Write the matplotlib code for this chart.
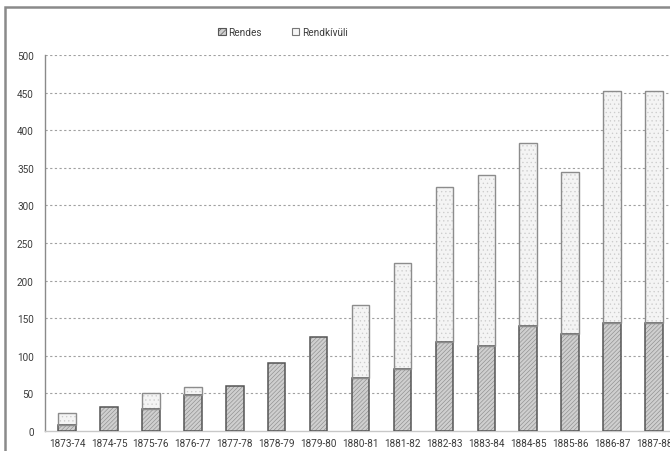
import matplotlib
matplotlib.use("Agg")
import matplotlib.pyplot as plt
from matplotlib.patches import Patch, Rectangle
import numpy as np

plt.rcParams['font.family'] = ['Roboto', 'DejaVu Sans']
plt.rcParams['hatch.linewidth'] = 0.45

years = ["1873-74", "1874-75", "1875-76", "1876-77", "1877-78", "1878-79",
         "1879-80", "1880-81", "1881-82", "1882-83", "1883-84", "1884-85",
         "1885-86", "1886-87", "1887-88"]
rendes = [8, 32, 29, 48, 60, 90, 125, 71, 83, 118, 113, 139, 129, 144, 144]
rendkivuli = [16, 0, 21, 11, 0, 0, 0, 96, 140, 207, 227, 244, 215, 308, 308]
yticks = [0, 50, 100, 150, 200, 250, 300, 350, 400, 450, 500]

W, H = 670, 452
fig = plt.figure(figsize=(W / 100, H / 100), dpi=100)
fig.patch.set_facecolor("white")

# outer frame of the chart area
fig.patches.append(Rectangle((5 / W, -0.2), 1.2, (H - 8) / H + 0.2,
                             transform=fig.transFigure, fill=False,
                             edgecolor="#8a8a8a", linewidth=1.8, zorder=0))

ax = fig.add_axes([45 / W, 20 / H, (W - 45) / W, 376 / H])
x = np.arange(len(years))
width = 0.42

# Rendes: grey with dense diagonal hatching
ax.bar(x, rendes, width, color="#cfcfcf", edgecolor="#8e8e8e",
       hatch="////////", linewidth=0, zorder=3)
ax.bar(x, rendes, width, fill=False, edgecolor="#555555", linewidth=1.1, zorder=4)

# Rendkívüli: very light with a faint dotted texture
mask = np.array(rendkivuli) > 0
ax.bar(x[mask], np.array(rendkivuli)[mask], width, bottom=np.array(rendes)[mask],
       color="#f4f4f4", edgecolor="#cccccc", hatch="....", linewidth=0, zorder=3)
ax.bar(x[mask], np.array(rendkivuli)[mask], width, bottom=np.array(rendes)[mask],
       fill=False, edgecolor="#8c8c8c", linewidth=1.0, zorder=4)

ax.set_xlim(-0.525, 14.38)
ax.set_ylim(0, 500)
ax.set_yticks(yticks)
ax.set_xticks(x)
ax.set_xticklabels(years)
ax.tick_params(axis="both", length=0, labelsize=7.2, colors="#3c3c3c")
ax.tick_params(axis="y", pad=8)
ax.tick_params(axis="x", pad=5)

for v in yticks[1:]:
    ax.axhline(v, color="#a0a0a0", linewidth=0.8, linestyle=(0, (2.0, 2.2)), zorder=1)

for s in ["top", "right"]:
    ax.spines[s].set_visible(False)
ax.spines["left"].set_color("#8a8a8a")
ax.spines["left"].set_linewidth(1.0)
ax.spines["bottom"].set_color("#c8c8c8")
ax.spines["bottom"].set_linewidth(1.0)

handles = [
    Patch(facecolor="#cfcfcf", edgecolor="#555555", hatch="//////", linewidth=0.8),
    Patch(facecolor="#f6f6f6", edgecolor="#777777", linewidth=0.8),
]
fig.legend(handles, ["Rendes", "Rendkívüli"], loc="center",
           bbox_to_anchor=(283 / W, 1 - 33 / H), ncol=2, frameon=False,
           fontsize=7.2, handlelength=0.75, handleheight=0.75,
           handletextpad=0.25, columnspacing=3.0, labelcolor="#3c3c3c")

fig.savefig("out.png", dpi=100, facecolor="white")
